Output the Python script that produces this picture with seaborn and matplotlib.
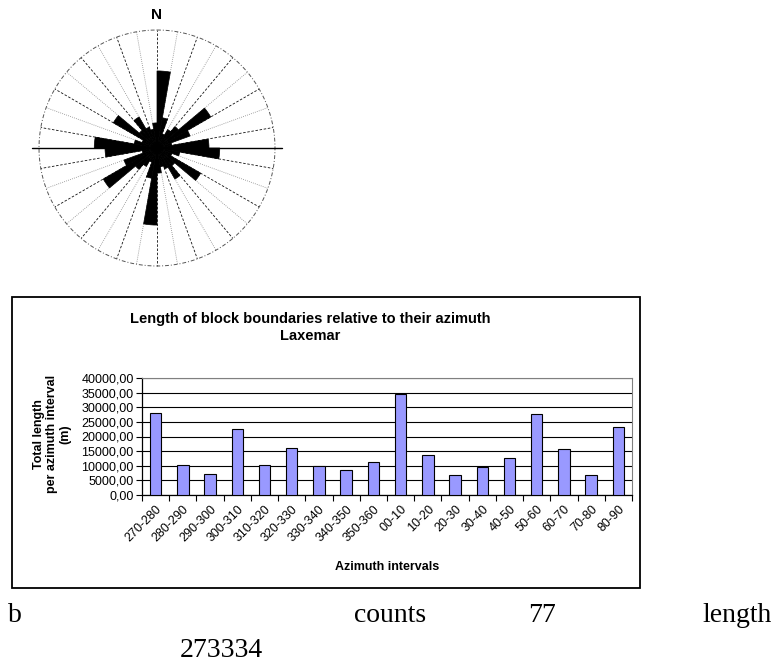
import numpy as np
import pandas as pd
import matplotlib
matplotlib.use("Agg")
import matplotlib.pyplot as plt
from matplotlib.patches import Rectangle
import seaborn as sns

# ---- data ----
categories = ["270-280", "280-290", "290-300", "300-310", "310-320", "320-330",
              "330-340", "340-350", "350-360", "00-10", "10-20", "20-30",
              "30-40", "40-50", "50-60", "60-70", "70-80", "80-90"]
interval_start = [270, 280, 290, 300, 310, 320, 330, 340, 350,
                  0, 10, 20, 30, 40, 50, 60, 70, 80]
lengths = [28000, 10300, 7100, 22500, 10300, 16000, 9900, 8500, 11200,
           34400, 13700, 6700, 9500, 12500, 27700, 15700, 6700, 23200]
y_ticks = [0, 5000, 10000, 15000, 20000, 25000, 30000, 35000, 40000]

title = "Length of block boundaries relative to their azimuth\nLaxemar"
y_label = "Total length\nper azimuth interval\n(m)"
x_label = "Azimuth intervals"
footer_row1 = [("b", 8), ("counts", 354), ("77", 528), ("length", 702)]
footer_row2 = [("273334", 180)]

sns.set_theme(style="white")
plt.rcParams["font.family"] = ["Liberation Sans", "DejaVu Sans"]
plt.rcParams["text.color"] = "black"
plt.rcParams["xtick.color"] = "black"
plt.rcParams["ytick.color"] = "black"
plt.rcParams["axes.labelcolor"] = "black"

W, H = 778, 662
fig = plt.figure(figsize=(W / 100, H / 100), dpi=100)
fig.patch.set_facecolor("white")

def fx(px):
    return px / W

def fy(py):
    return 1 - py / H

# ---- rose diagram ----
px_per_len = 2.24 / 1000.0
cx, cy, R = 157, 148, 125
rmax = R / px_per_len
rcirc = 118 / px_per_len
pax = fig.add_axes([fx(cx - R), fy(cy + R), 2 * R / W, 2 * R / H], projection="polar")
pax.set_theta_zero_location("N")
pax.set_theta_direction(-1)
pax.set_ylim(0, rmax)
pax.grid(False)
pax.set_xticks([])
pax.set_yticks([])
pax.spines["polar"].set_visible(False)
pax.patch.set_alpha(0)

for k in range(36):
    th = np.deg2rad(k * 10)
    style = (0, (3, 2)) if k % 2 == 0 else (0, (1, 1.5))
    col = "#111111" if k % 2 == 0 else "#888888"
    pax.plot([th, th], [0, rcirc], color=col, lw=0.6, linestyle=style, zorder=1)
circ_t = np.linspace(0, 2 * np.pi, 400)
pax.plot(circ_t, np.full_like(circ_t, rcirc), color="#555555", lw=0.7,
         linestyle=(0, (4, 2, 1, 2)), zorder=1)
pax.plot([np.pi / 2, np.pi / 2], [0, rmax], color="black", lw=1.0, zorder=2, clip_on=False)
pax.plot([3 * np.pi / 2, 3 * np.pi / 2], [0, rmax], color="black", lw=1.0, zorder=2, clip_on=False)

starts = np.array(interval_start, dtype=float)
vals = np.array(lengths, dtype=float)
theta = np.deg2rad(np.concatenate([starts, (starts + 180) % 360]))
radii = np.concatenate([vals, vals])
pax.bar(theta, radii, width=np.deg2rad(10), align="edge", color="black",
        edgecolor="black", linewidth=0.5, zorder=3)
fig.text(fx(157), fy(15), "N", ha="center", va="center", fontsize=11,
         fontweight="bold")

# ---- chart box ----
fig.patches.append(Rectangle((fx(12), fy(588)), fx(640) - fx(12), fy(297) - fy(588),
                             transform=fig.transFigure, fill=False,
                             edgecolor="black", linewidth=1.3, zorder=0))

ax = fig.add_axes([fx(142), fy(495), fx(632) - fx(142), fy(378) - fy(495)])
df = pd.DataFrame({"interval": categories, "length": lengths})
sns.barplot(data=df, x="interval", y="length", order=categories,
            color="#9999FF", saturation=1, edgecolor="black", linewidth=0.8,
            width=0.42, ax=ax, zorder=3)
ax.set_xlim(-0.5, len(categories) - 0.5)
ax.set_ylim(0, 40000)
ax.set_yticks(y_ticks)
ax.set_yticklabels([f"{v:.2f}".replace(".", ",") for v in y_ticks], fontsize=9)
ax.yaxis.grid(True, color="black", lw=0.8)
ax.xaxis.grid(False)
ax.set_axisbelow(True)
ax.set_xticks(range(len(categories)))
ax.set_xticklabels(categories, rotation=45, ha="right", rotation_mode="anchor",
                   fontsize=9)
ax.tick_params(axis="x", which="major", length=0, pad=6)
ax.set_xticks(np.arange(-0.5, len(categories), 1.0), minor=True)
ax.tick_params(axis="x", which="minor", length=4, width=0.8, color="black",
               direction="out", bottom=True)
ax.tick_params(axis="y", length=4, width=0.8, color="black", direction="out",
               left=True, pad=2)
ax.set_xlabel("")
ax.set_ylabel("")
for s in ["top", "right"]:
    ax.spines[s].set_color("#808080")
    ax.spines[s].set_linewidth(0.8)
for s in ["left", "bottom"]:
    ax.spines[s].set_color("black")
    ax.spines[s].set_linewidth(0.9)

fig.text(fx(310), fy(327.5), title, ha="center", va="center", fontsize=10.5,
         fontweight="bold", linespacing=1.35)
fig.text(fx(52), fy(434), y_label, ha="center", va="center", rotation=90,
         fontsize=9, fontweight="bold", linespacing=1.1)
fig.text(fx(387), fy(567), x_label, ha="center", va="center", fontsize=9,
         fontweight="bold")

# ---- footer text ----
for txt, x0 in footer_row1:
    fig.text(fx(x0), fy(622), txt, ha="left", va="baseline", fontsize=20,
             family=["Liberation Serif", "DejaVu Serif"])
for txt, x0 in footer_row2:
    fig.text(fx(x0), fy(657), txt, ha="left", va="baseline", fontsize=20,
             family=["Liberation Serif", "DejaVu Serif"])

fig.savefig("out.png", dpi=100, facecolor="white")
